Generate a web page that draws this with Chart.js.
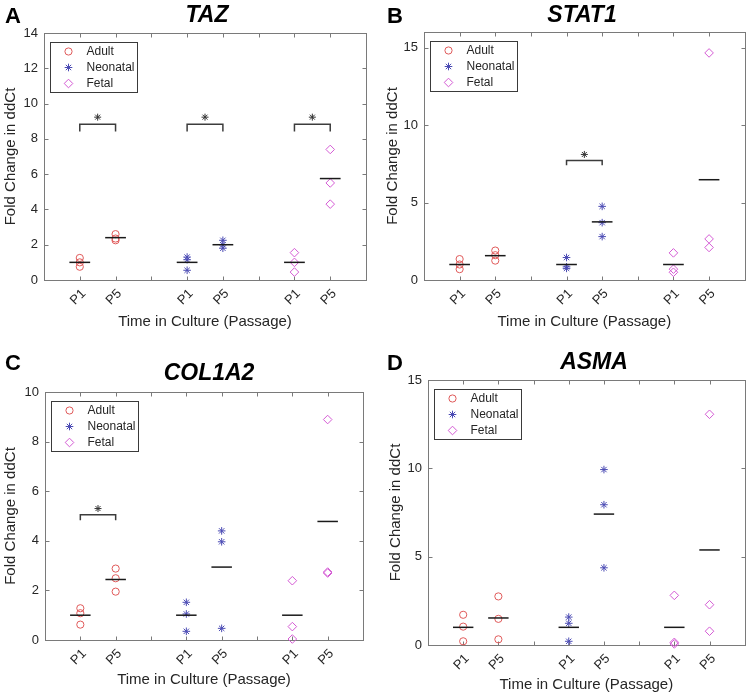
<!DOCTYPE html>
<html>
<head>
<meta charset="utf-8">
<title>Fold change in ddCt by passage</title>
<script src="https://cdn.jsdelivr.net/npm/chart.js@4.4.1/dist/chart.umd.min.js"></script>
<style>
    body { margin: 0; background: #fff; }
    .panel { position: absolute; width: 375px; height: 347px; }
</style>
</head>
<body>
<div class="panel" style="left:0;top:0"><canvas id="tazChart" width="375" height="347"></canvas></div>
<div class="panel" style="left:375px;top:0"><canvas id="stat1Chart" width="375" height="347"></canvas></div>
<div class="panel" style="left:0;top:347px"><canvas id="col1a2Chart" width="375" height="347"></canvas></div>
<div class="panel" style="left:375px;top:347px"><canvas id="asmaChart" width="375" height="347"></canvas></div>
<script>
// Categories and ticks
const groups = ['Adult', 'Neonatal', 'Fetal'];
const groupX = [[1, 2], [4, 5], [7, 8]];          // P1 / P5 slot of each group
const xTickValues = [1, 2, 3, 4, 5, 6, 7, 8];
const xTickLabels = ['P1', 'P5', '', 'P1', 'P5', '', 'P1', 'P5'];

// TAZ  (each series: [P1 values, P5 values])
const tazAdult = [[1.25, 1.0, 0.75], [2.6, 2.35, 2.25]];
const tazNeonatal = [[1.3, 1.15, 0.55], [2.25, 2.0, 1.8]];
const tazFetal = [[1.55, 1.0, 0.45], [7.4, 5.5, 4.3]];
const tazMeans = [1.0, 2.4, 1.0, 2.0, 1.0, 5.75];
const tazYTicks = [0, 2, 4, 6, 8, 10, 12, 14];
// [x1, x2, bracket top, leg bottom, star]
const tazSig = [[1, 2, 8.83, 8.42, 9.23], [4, 5, 8.83, 8.42, 9.23], [7, 8, 8.83, 8.42, 9.23]];

// STAT1
const stat1Adult = [[1.35, 1.0, 0.7], [1.9, 1.6, 1.25]];
const stat1Neonatal = [[1.45, 0.85, 0.75], [4.75, 3.7, 2.8]];
const stat1Fetal = [[1.75, 0.7, 0.5], [14.65, 2.65, 2.1]];
const stat1Means = [1.0, 1.57, 1.0, 3.75, 1.0, 6.47];
const stat1YTicks = [0, 5, 10, 15];
const stat1Sig = [[4, 5, 7.71, 7.4, 8.1]];

// COL1A2
const col1a2Adult = [[1.28, 1.08, 0.62], [2.88, 2.49, 1.95]];
const col1a2Neonatal = [[1.52, 1.05, 0.35], [4.4, 3.96, 0.47]];
const col1a2Fetal = [[2.39, 0.54, 0.04], [8.89, 2.74, 2.7]];
const col1a2Means = [1.0, 2.44, 1.0, 2.94, 1.0, 4.78];
const col1a2YTicks = [0, 2, 4, 6, 8, 10];
const col1a2Sig = [[1, 2, 5.05, 4.83, 5.3]];

// ASMA
const asmaAdult = [[1.71, 1.04, 0.21], [2.75, 1.48, 0.32]];
const asmaNeonatal = [[1.58, 1.23, 0.21], [9.93, 7.94, 4.37]];
const asmaFetal = [[2.81, 0.15, 0.06], [13.06, 2.28, 0.78]];
const asmaMeans = [1.0, 1.53, 1.0, 7.41, 1.0, 5.38];
const asmaYTicks = [0, 5, 10, 15];
const asmaSig = [];

const FONT = '"Liberation Sans", Arial, sans-serif';
const TEXT = '#262626';

const seriesStyle = [
    { pointStyle: 'circle', radius: 3.6, color: '#e05a5a' },
    { pointStyle: 'star', radius: 3.8, color: '#4b4bb4' },
    { pointStyle: 'rectRot', radius: 4.3, color: '#d45ad4' }
];

// panel layout (canvas px)
const panels = [
    { id: 'tazChart', letter: 'A', letterX: 5, letterY: 23, gene: 'TAZ', geneX: 207, geneY: 22,
      series: [tazAdult, tazNeonatal, tazFetal], means: tazMeans, yTicks: tazYTicks, yMax: 14, sig: tazSig,
      area: { l: 44, r: 366, t: 33, b: 280 }, yTitleX: 11, xTitleY: 322 },
    { id: 'stat1Chart', letter: 'B', letterX: 12, letterY: 23, gene: 'STAT1', geneX: 207, geneY: 22,
      series: [stat1Adult, stat1Neonatal, stat1Fetal], means: stat1Means, yTicks: stat1YTicks, yMax: 16, sig: stat1Sig,
      area: { l: 49, r: 370, t: 32, b: 280 }, yTitleX: 18, xTitleY: 322 },
    { id: 'col1a2Chart', letter: 'C', letterX: 5, letterY: 22.5, gene: 'COL1A2', geneX: 209, geneY: 33,
      series: [col1a2Adult, col1a2Neonatal, col1a2Fetal], means: col1a2Means, yTicks: col1a2YTicks, yMax: 10, sig: col1a2Sig,
      area: { l: 45, r: 363, t: 45, b: 293 }, yTitleX: 11, xTitleY: 333 },
    { id: 'asmaChart', letter: 'D', letterX: 12, letterY: 23, gene: 'ASMA', geneX: 219, geneY: 22,
      series: [asmaAdult, asmaNeonatal, asmaFetal], means: asmaMeans, yTicks: asmaYTicks, yMax: 15, sig: asmaSig,
      area: { l: 53, r: 371, t: 33, b: 298 }, yTitleX: 21, xTitleY: 338 }
];

// MATLAB style box with inward ticks
const matlabFrame = {
    id: 'matlabFrame',
    beforeDatasetsDraw(chart) {
        const { ctx, chartArea: a, scales: { x, y } } = chart;
        const l = Math.round(a.left) + 0.5, r = Math.round(a.right) + 0.5;
        const t = Math.round(a.top) + 0.5, b = Math.round(a.bottom) + 0.5;
        ctx.save();
        ctx.strokeStyle = '#7a7a7a';
        ctx.lineWidth = 1;
        ctx.strokeRect(l, t, r - l, b - t);
        ctx.beginPath();
        x.ticks.forEach(tk => {
            const px = Math.round(x.getPixelForValue(tk.value)) + 0.5;
            ctx.moveTo(px, b); ctx.lineTo(px, b - 4);
            ctx.moveTo(px, t); ctx.lineTo(px, t + 4);
        });
        y.ticks.forEach(tk => {
            const py = Math.round(y.getPixelForValue(tk.value)) + 0.5;
            ctx.moveTo(l, py); ctx.lineTo(l + 4, py);
            ctx.moveTo(r, py); ctx.lineTo(r - 4, py);
        });
        ctx.stroke();
        ctx.restore();
    }
};

// boxed legend inside the axes, top left
const boxLegend = {
    id: 'boxLegend',
    afterDatasetsDraw(chart) {
        const { ctx, chartArea: a } = chart;
        const bx = Math.round(a.left) + 6.5, by = Math.round(a.top) + 9.5;
        ctx.save();
        ctx.fillStyle = '#fff';
        ctx.strokeStyle = '#3a3a3a';
        ctx.lineWidth = 1;
        ctx.fillRect(bx, by, 87, 50);
        ctx.strokeRect(bx, by, 87, 50);
        ctx.font = '12px ' + FONT;
        ctx.textBaseline = 'middle';
        ctx.textAlign = 'left';
        groups.forEach((g, i) => {
            const st = seriesStyle[i];
            const ry = by + 9 + i * 16;
            ctx.strokeStyle = st.color;
            ctx.fillStyle = 'rgba(0,0,0,0)';
            ctx.lineWidth = 1;
            Chart.helpers.drawPoint(ctx, { pointStyle: st.pointStyle, radius: st.radius, rotation: 0, borderWidth: 1 }, bx + 18, ry);
            ctx.fillStyle = TEXT;
            ctx.fillText(g, bx + 36, ry + 0.5);
        });
        ctx.restore();
    }
};

const panelTitle = {
    id: 'panelTitle',
    afterDraw(chart, args, opts) {
        const { ctx } = chart;
        ctx.save();
        ctx.fillStyle = '#000';
        ctx.textBaseline = 'alphabetic';
        ctx.textAlign = 'left';
        ctx.font = 'bold 22px ' + FONT;
        ctx.fillText(opts.letter, opts.letterX, opts.letterY);
        ctx.textAlign = 'center';
        ctx.font = 'italic bold 23px ' + FONT;
        ctx.fillText(opts.gene, opts.geneX, opts.geneY);
        ctx.restore();
    }
};

function buildChart(p) {
    const datasets = [];

    // group means
    p.means.forEach((m, i) => {
        const xc = groupX[Math.floor(i / 2)][i % 2];
        datasets.push({
            data: [{ x: xc - 0.29, y: m }, { x: xc + 0.29, y: m }],
            showLine: true, borderColor: '#1a1a1a', borderWidth: 1.5, pointRadius: 0, clip: false
        });
    });

    // significance brackets
    p.sig.forEach(s => {
        datasets.push({
            data: [{ x: s[0], y: s[3] }, { x: s[0], y: s[2] }, { x: s[1], y: s[2] }, { x: s[1], y: s[3] }],
            showLine: true, borderColor: '#3c3c3c', borderWidth: 1.5, pointRadius: 0, clip: false
        });
        datasets.push({
            data: [{ x: (s[0] + s[1]) / 2, y: s[4] }],
            pointStyle: 'star', pointRadius: 3.5, borderColor: '#333', borderWidth: 1, clip: false
        });
    });

    // replicate points
    p.series.forEach((ser, gi) => {
        const st = seriesStyle[gi];
        const pts = [];
        ser.forEach((vals, pi) => vals.forEach(v => pts.push({ x: groupX[gi][pi], y: v })));
        datasets.push({
            label: groups[gi],
            data: pts,
            pointStyle: st.pointStyle,
            pointRadius: st.radius,
            borderColor: st.color,
            backgroundColor: 'rgba(0,0,0,0)',
            borderWidth: 1,
            clip: false
        });
    });

    const a = p.area;
    const padLeft = p.yTitleX - 9;
    const padBottom = 347 - p.xTitleY - 9;

    return new Chart(document.getElementById(p.id), {
        type: 'scatter',
        data: { datasets },
        plugins: [matlabFrame, boxLegend, panelTitle],
        options: {
            responsive: false,
            animation: false,
            devicePixelRatio: 1,
            events: [],
            layout: { padding: { left: padLeft, right: 375 - a.r, top: a.t, bottom: padBottom } },
            plugins: {
                legend: { display: false },
                tooltip: { enabled: false },
                panelTitle: { letter: p.letter, letterX: p.letterX, letterY: p.letterY, gene: p.gene, geneX: p.geneX, geneY: p.geneY }
            },
            scales: {
                x: {
                    type: 'linear',
                    min: 0,
                    max: 9,
                    grid: { display: false, drawTicks: false },
                    border: { display: false },
                    afterBuildTicks: s => { s.ticks = xTickValues.map(v => ({ value: v })); },
                    afterFit: s => { s.height = 347 - padBottom - a.b; },
                    ticks: {
                        autoSkip: false,
                        minRotation: 45,
                        maxRotation: 45,
                        padding: 6,
                        labelOffset: 4,
                        color: TEXT,
                        font: { family: FONT, size: 13 },
                        callback: (v, i) => xTickLabels[i]
                    },
                    title: {
                        display: true,
                        text: 'Time in Culture (Passage)',
                        color: TEXT,
                        padding: { top: 0, bottom: 0 },
                        font: { family: FONT, size: 15, lineHeight: 1.2 }
                    }
                },
                y: {
                    min: 0,
                    max: p.yMax,
                    grid: { display: false, drawTicks: false },
                    border: { display: false },
                    afterBuildTicks: s => { s.ticks = p.yTicks.map(v => ({ value: v })); },
                    afterFit: s => { s.width = a.l - padLeft; },
                    ticks: {
                        padding: 6,
                        color: TEXT,
                        font: { family: FONT, size: 13 }
                    },
                    title: {
                        display: true,
                        text: 'Fold Change in ddCt',
                        color: TEXT,
                        padding: { top: 0, bottom: 0 },
                        font: { family: FONT, size: 15, lineHeight: 1.2 }
                    }
                }
            }
        }
    });
}

panels.forEach(buildChart);
</script>
</body>
</html>
